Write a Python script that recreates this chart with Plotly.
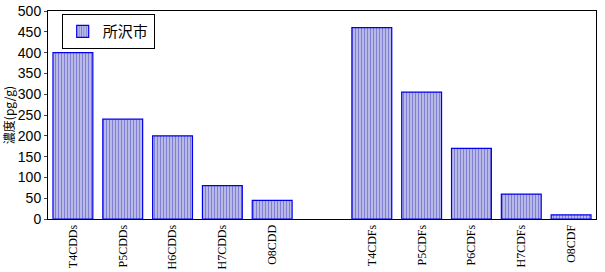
import plotly.graph_objects as go

categories = ["T4CDDs", "P5CDDs", "H6CDDs", "H7CDDs", "O8CDD", " ",
              "T4CDFs", "P5CDFs", "P6CDFs", "H7CDFs", "O8CDF"]
values = [400, 240, 200, 80, 45, None, 460, 305, 170, 60, 10]
series_name = "所沢市"
y_title = "濃度(pg/g)"

fig = go.Figure()
fig.add_trace(go.Bar(
    x=categories, y=values, name=series_name, showlegend=True,
    marker=dict(color="white", line=dict(color="#0000ee", width=1.2),
                pattern=dict(shape="|", fgcolor="#0000aa", bgcolor="white",
                             size=3, solidity=0.7)),
))
fig.update_layout(
    width=605, height=272,
    margin=dict(l=48, r=9, t=11, b=53),
    paper_bgcolor="white", plot_bgcolor="white",
    bargap=0.2,
    font=dict(family="Liberation Serif", color="black", size=12),
    legend=dict(x=0.025, y=0.985, xanchor="left", yanchor="top",
                bordercolor="black", borderwidth=1, bgcolor="white",
                font=dict(family="Noto Sans CJK JP", size=15),
                itemwidth=30, tracegroupgap=0),
    xaxis=dict(type="category", tickangle=-90, showline=True, linecolor="black",
               linewidth=1, mirror=True, ticks="", automargin=False,
               tickfont=dict(family="Liberation Serif", size=12)),
    yaxis=dict(range=[0, 500], dtick=50, showline=True, linecolor="black",
               linewidth=1, mirror=True, ticks="outside", ticklen=3,
               showgrid=False, zeroline=False, automargin=False,
               title=dict(text=y_title, font=dict(family="Noto Sans CJK JP", size=12), standoff=3),
               tickfont=dict(family="Liberation Sans", size=14)),
)
fig.write_html("out.html")
